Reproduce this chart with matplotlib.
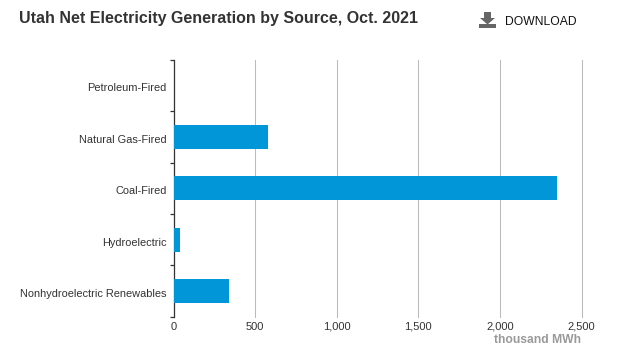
import matplotlib
matplotlib.use('Agg')
import matplotlib.pyplot as plt
from matplotlib.patches import Polygon, Rectangle
from matplotlib.transforms import ScaledTranslation

plt.rcParams['font.family'] = ['Liberation Sans', 'DejaVu Sans']

categories = ['Petroleum-Fired', 'Natural Gas-Fired', 'Coal-Fired', 'Hydroelectric', 'Nonhydroelectric Renewables']
values = [1, 580, 2350, 40, 340]
xticks = [0, 500, 1000, 1500, 2000, 2500]
xticklabels = ['0', '500', '1,000', '1,500', '2,000', '2,500']
title = 'Utah Net Electricity Generation by Source, Oct. 2021'

W, H = 632, 356
fig = plt.figure(figsize=(W/100, H/100), dpi=100, facecolor='white')
L, R, T, B = 173.5, 581.5, 59.7, 316.7
ax = fig.add_axes([L/W, 1-B/H, (R-L)/W, (B-T)/H])
ax.barh(range(5), values, height=0.47, color='#0096d7', zorder=3)
ax.set_ylim(4.5, -0.5)
ax.set_xlim(0, 2500)
for s in ['top', 'right', 'bottom']:
    ax.spines[s].set_visible(False)
ax.spines['left'].set_color('#333333')
ax.spines['left'].set_linewidth(0.9)
ax.set_xticks(xticks, xticklabels)
ax.set_yticks(range(5), categories)
ax.set_yticks([i-0.5 for i in range(6)], minor=True)
ax.tick_params(axis='y', which='major', length=0, labelsize=7.9, labelcolor='#333333', pad=5)
ax.tick_params(axis='y', which='minor', length=3, color='#333333', width=0.9)
ax.tick_params(axis='x', length=0, labelsize=8, labelcolor='#333333', pad=3.5)
ax.grid(axis='x', color='#bbbbbb', lw=0.75, zorder=0, clip_on=False)
ax.set_axisbelow(True)
shift = ScaledTranslation(0, -1.5/72, fig.dpi_scale_trans)
for lab in ax.get_yticklabels():
    lab.set_transform(lab.get_transform() + shift)

def px(x, y):
    return x/W, 1-y/H
fig.text(*px(19, 18.5), title, fontsize=11.5, fontweight='bold', color='#333333', va='center', ha='left')
fig.text(*px(505, 22), 'DOWNLOAD', fontsize=8.7, color='#111111', va='center', ha='left')
fig.text(*px(581, 340), 'thousand MWh', fontsize=8.7, fontweight='bold', color='#999999', va='center', ha='right')
icon = '#666666'
fig.add_artist(Polygon([px(484,12), px(491,12), px(491,18), px(495,18), px(487.5,24.5), px(480,18), px(484,18)], closed=True, color=icon, lw=0))
fig.add_artist(Rectangle(px(478.5,28), 17.5/W, 4/H, color=icon, lw=0))
fig.savefig('out.png', dpi=100)
